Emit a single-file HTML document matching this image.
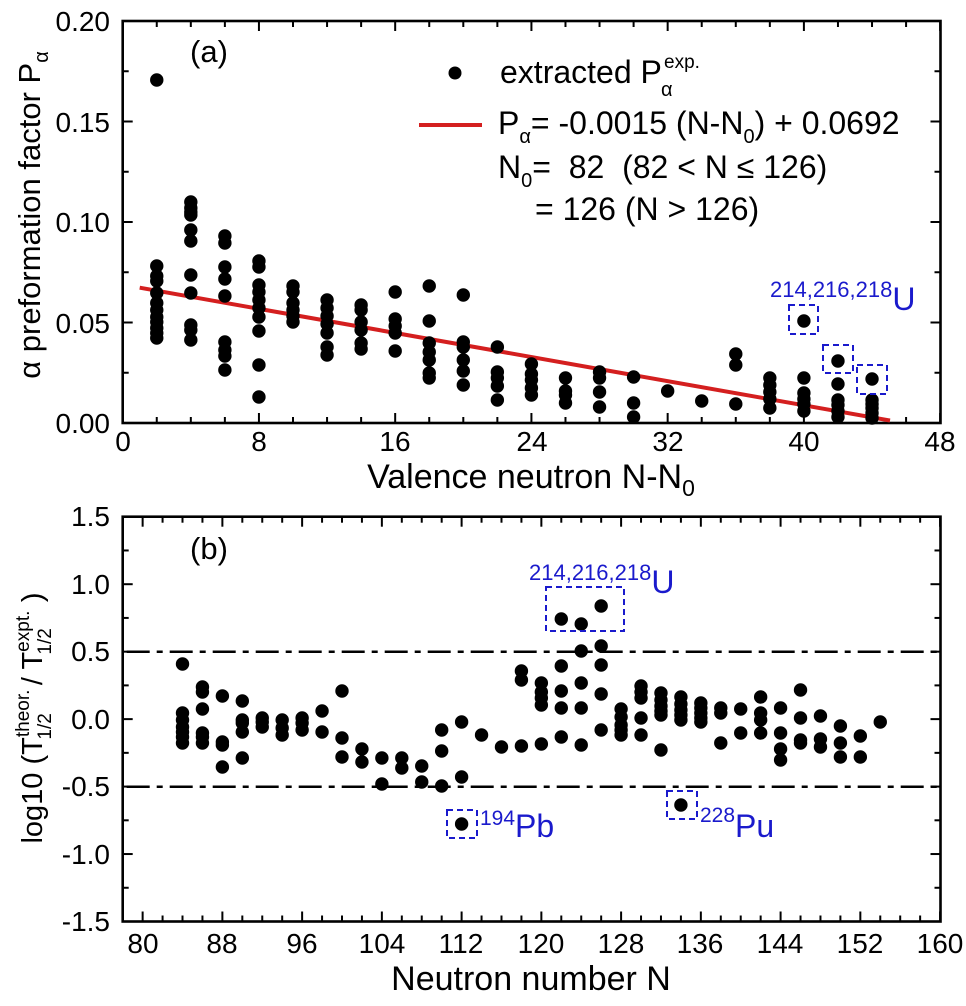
<!DOCTYPE html>
<html><head><meta charset="utf-8"><style>
html,body{margin:0;padding:0;background:#fff;}
svg{display:block;font-family:"Liberation Sans",Arial,sans-serif;}
text{white-space:pre;}
</style></head><body>
<svg id="s" width="966" height="1006" viewBox="0 0 966 1006" xmlns="http://www.w3.org/2000/svg">
<rect width="966" height="1006" fill="#fff"/>
<g id="g"></g>
<g font-size="28" text-anchor="end" fill="#000">
<text x="110" y="31">0.20</text>
<text x="110" y="132">0.15</text>
<text x="110" y="232">0.10</text>
<text x="110" y="333">0.05</text>
<text x="110" y="433">0.00</text>
</g>
<g font-size="28" text-anchor="middle">
<text x="123" y="451">0</text><text x="259" y="451">8</text><text x="395" y="451">16</text><text x="532" y="451">24</text><text x="668" y="451">32</text><text x="804" y="451">40</text><text x="940" y="451">48</text>
</g>
<text x="531" y="488" font-size="34" text-anchor="middle">Valence neutron N-N<tspan font-size="23" dy="8">0</tspan></text>
<text transform="translate(40,215) rotate(-90)" font-size="31" text-anchor="middle">α preformation factor P<tspan font-size="20" dy="8">α</tspan></text>
<text x="190" y="62" font-size="31">(a)</text>
<circle cx="455" cy="73" r="6.5"/>
<text x="500" y="83" font-size="32">extracted P</text>
<text x="664" y="68" font-size="19">exp.</text>
<text x="661" y="96" font-size="20">α</text>
<line x1="419" y1="125" x2="482" y2="125" stroke="#d41f1f" stroke-width="4"/>
<text x="498" y="134" font-size="32">P<tspan font-size="20" dy="9">α</tspan><tspan dy="-9">= -0.0015 (N-N</tspan><tspan font-size="20" dy="9">0</tspan><tspan dy="-9">) + 0.0692</tspan></text>
<text x="498" y="178" font-size="32" xml:space="preserve">N<tspan font-size="20" dy="9">0</tspan><tspan dy="-9">=  82  (82 &lt; N ≤ 126)</tspan></text>
<text x="535" y="220" font-size="32">= 126 (N &gt; 126)</text>
<text x="770" y="297" font-size="22" fill="#1a1acc">214,216,218<tspan font-size="32" dy="13">U</tspan></text>
<g font-size="28" text-anchor="end">
<text x="110" y="526">1.5</text><text x="110" y="594">1.0</text><text x="110" y="661">0.5</text><text x="110" y="729">0.0</text><text x="110" y="796">-0.5</text><text x="110" y="864">-1.0</text><text x="110" y="931">-1.5</text>
</g>
<g font-size="28" text-anchor="middle">
<text x="143" y="953">80</text><text x="222" y="953">88</text><text x="302" y="953">96</text><text x="382" y="953">104</text><text x="461" y="953">112</text><text x="541" y="953">120</text><text x="621" y="953">128</text><text x="700" y="953">136</text><text x="780" y="953">144</text><text x="860" y="953">152</text><text x="940" y="953">160</text>
</g>
<text x="531" y="990" font-size="34" text-anchor="middle">Neutron number N</text>
<text transform="translate(42,718) rotate(-90)" font-size="29" text-anchor="middle">log10 (T<tspan font-size="19" dy="-13">theor.</tspan><tspan font-size="19" dx="-50" dy="22">1/2</tspan><tspan dx="20" dy="-9"> / T</tspan><tspan font-size="19" dy="-13">expt.</tspan><tspan font-size="19" dx="-44" dy="22">1/2</tspan><tspan dx="18" dy="-9"> )</tspan></text>
<text x="190" y="559" font-size="31">(b)</text>
<text x="529" y="580" font-size="22" fill="#1a1acc">214,216,218<tspan font-size="32" dy="13">U</tspan></text>
<text x="480" y="825" font-size="21" fill="#1a1acc">194<tspan font-size="32" dy="12">Pb</tspan></text>
<text x="700" y="822" font-size="21" fill="#1a1acc">228<tspan font-size="32" dy="15">Pu</tspan></text>
</svg>
<script>
var NS="http://www.w3.org/2000/svg",g=document.getElementById("g");
function el(t,a){var e=document.createElementNS(NS,t);for(var k in a)e.setAttribute(k,a[k]);g.appendChild(e);return e;}
var L=122.7,R=940.5;
var aT=21,aB=423;
function axA(N){return L+N*17.03;}
for(var n=0;n<=48;n+=2){var x=axA(n),len=(n%8==0)?10:6;
 el("line",{x1:x,y1:aB,x2:x,y2:aB-len,stroke:"#000","stroke-width":2});
 el("line",{x1:x,y1:aT,x2:x,y2:aT+len,stroke:"#000","stroke-width":2});}
for(var i=0;i<=8;i++){var y=aB-i*50.25,len=(i%2==0)?10:6;
 el("line",{x1:L,y1:y,x2:L+len,y2:y,stroke:"#000","stroke-width":2});
 el("line",{x1:R,y1:y,x2:R-len,y2:y,stroke:"#000","stroke-width":2});}
el("rect",{x:L,y:aT,width:R-L,height:aB-aT,fill:"none",stroke:"#000","stroke-width":2.6});
el("line",{x1:139.7,y1:287.7,x2:890,y2:420.5,stroke:"#d41f1f","stroke-width":4});
var A={2:[80,266,276,281,293,303,310,317,322,328,333,338],4:[202,208,212,215,230,241,275,293,325,330,340],6:[236,243,267,279,296,342,350,356,370],8:[261,267,285,292,300,308,317,331,365,397],10:[286,292,303,310,316,322],12:[300,308,316,324,333,347,355],14:[305,310,322,330,343,349],16:[292,319,326,333,351],18:[286,321,343,352,360,373,378],20:[295,342,347,360,371,385],22:[347,372,378,386,400],24:[364,374,380,388,395],26:[378,391,395,403],28:[372,378,392,407],30:[377,403,417],32:[391],34:[401],36:[354,365,404],38:[378,385,392,399,408],40:[321,378,393,399,404,411],42:[361,384,400,405,411,417],44:[379,400,404,408,413,418]};
for(var k in A){A[k].forEach(function(y){el("circle",{cx:axA(+k),cy:y,r:6.7,fill:"#000"});});}
[[789,305,29,29],[823,345,30,28],[857,365,30,29]].forEach(function(b){el("rect",{x:b[0],y:b[1],width:b[2],height:b[3],fill:"none",stroke:"#1a1acc","stroke-width":2,"stroke-dasharray":"6 4"});});
var bT=516.7,bB=921.5;
function axB(N){return L+(N-78)*9.968;}
for(var n=78;n<=160;n+=2){var x=axB(n),len=(n%8==0)?10:6;
 el("line",{x1:x,y1:bB,x2:x,y2:bB-len,stroke:"#000","stroke-width":2});
 el("line",{x1:x,y1:bT,x2:x,y2:bT+len,stroke:"#000","stroke-width":2});}
for(var i=0;i<=12;i++){var y=bB-i*33.73,len=(i%2==0)?10:6;
 el("line",{x1:L,y1:y,x2:L+len,y2:y,stroke:"#000","stroke-width":2});
 el("line",{x1:R,y1:y,x2:R-len,y2:y,stroke:"#000","stroke-width":2});}
el("rect",{x:L,y:bT,width:R-L,height:bB-bT,fill:"none",stroke:"#000","stroke-width":2.6});
[651.7,786.7].forEach(function(y){el("line",{x1:L+4,y1:y,x2:R,y2:y,stroke:"#000","stroke-width":2.5,"stroke-dasharray":"23 7 6 7"});});
var B={84:[664,713,720,727,732,737,743],86:[687,692,709,733,737,743],88:[696,742,745,767],90:[701,720,723,732,758],92:[718,722,727],94:[720,728,735],96:[718,723,730],98:[711,732],100:[691,738,757],102:[749,762],104:[758,784],106:[758,768],108:[766,782],110:[730,751,786],112:[722,777,824],114:[735],116:[747],118:[671,680,746],120:[683,692,698,705,744],122:[619,666,691,708,737],124:[624,651,683,708,745],126:[606,646,665,694,730],128:[709,717,725,730,735],130:[686,692,698,718,735],132:[693,700,706,711,715,750],134:[697,704,710,715,720,805],136:[703,708,713,718,722],138:[708,713,743],140:[709,733],142:[697,713,720,733],144:[708,733,749,760],146:[690,718,740,743],148:[716,739,747],150:[726,743,757],152:[736,757],154:[722]};
for(var k in B){B[k].forEach(function(y){el("circle",{cx:axB(+k),cy:y,r:6.7,fill:"#000"});});}
[[546,587,78,44],[667,791,30,28],[447,810,30,28]].forEach(function(b){el("rect",{x:b[0],y:b[1],width:b[2],height:b[3],fill:"none",stroke:"#1a1acc","stroke-width":2,"stroke-dasharray":"6 4"});});
</script>
</body></html>
